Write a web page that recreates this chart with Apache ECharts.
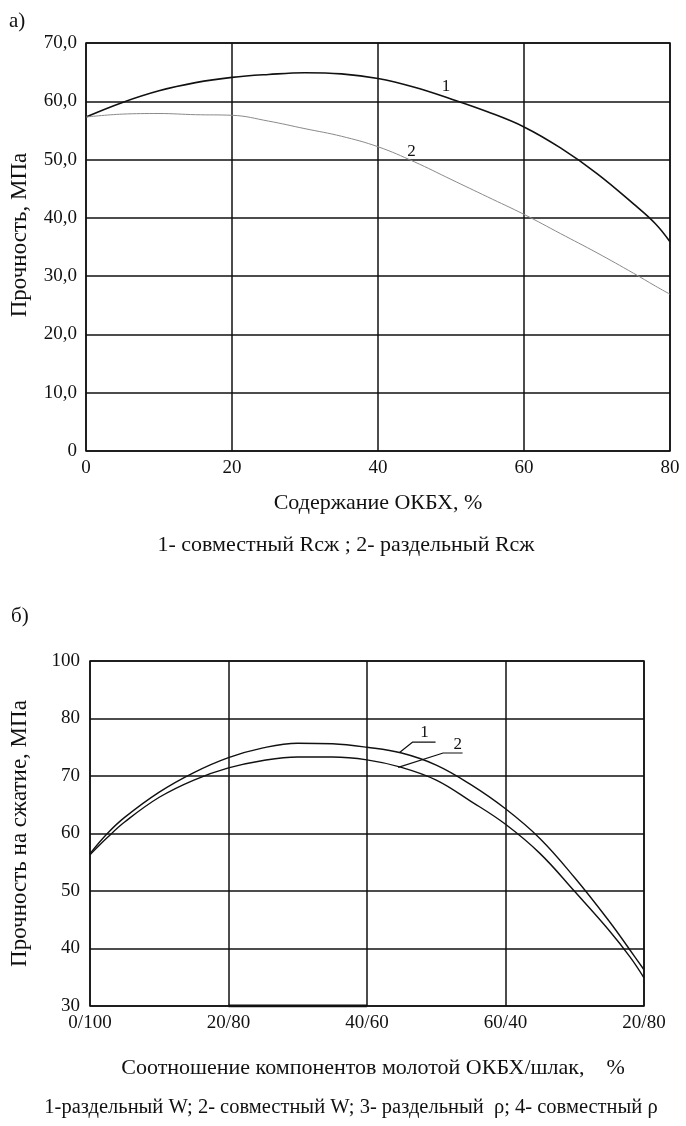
<!DOCTYPE html>
<html>
<head>
<meta charset="utf-8">
<script src="https://cdn.jsdelivr.net/npm/echarts@6/dist/echarts.min.js"></script>
<style>
  html, body { margin: 0; padding: 0; background: #fff; }
  #chart { width: 686px; height: 1126px; }
</style>
</head>
<body>
<div id="chart"></div>
<script>
// chart а) – strength vs OKBX content
const xA = [0, 5, 10, 15, 20, 25, 30, 35, 40, 45, 50, 55, 60, 65, 70, 75, 78, 80];
const a1 = [57.3, 59.8, 61.8, 63.2, 64.1, 64.6, 64.9, 64.7, 63.9, 62.4, 60.4, 58.2, 55.6, 52.0, 47.6, 42.4, 39.0, 35.9];
const a2 = [57.3, 57.8, 57.9, 57.7, 57.6, 56.6, 55.3, 54.0, 52.2, 49.6, 46.6, 43.6, 40.6, 37.3, 34.0, 30.5, 28.3, 26.9];
const xTicksA = ['0', '20', '40', '60', '80'];
const yTicksA = ['0', '10,0', '20,0', '30,0', '40,0', '50,0', '60,0', '70,0'];

// chart б) – compressive strength vs component ratio
const xB = [0, 2.5, 5, 10, 15, 20, 25, 30, 35, 40, 45, 50, 55, 60, 65, 70, 75, 78, 80];
const b1 = [56.5, 60.0, 62.8, 67.2, 70.6, 73.2, 74.9, 75.7, 75.6, 75.0, 74.0, 71.9, 68.5, 64.3, 59.1, 52.3, 44.7, 39.7, 36.3];
const b2 = [56.3, 59.3, 62.0, 66.3, 69.3, 71.4, 72.7, 73.3, 73.3, 72.8, 71.5, 69.3, 65.6, 61.6, 56.5, 49.9, 43.1, 38.5, 34.9];
const xTicksB = ['0/100', '20/80', '40/60', '60/40', '20/80'];
const yTicksB = ['30', '40', '50', '60', '70', '80', '100'];
// leader lines for the curve numbers in б)
const lead1 = [[44.7, 74.1], [46.6, 75.9], [49.9, 75.9]];
const lead2 = [[44.5, 71.5], [51.0, 74.0], [53.8, 74.0]];

const FONT = '"Liberation Serif", "DejaVu Serif", serif';
const INK = '#111';

function pairs(xs, ys) {
  return xs.map((x, i) => [x, ys[i]]);
}

function numLabel(text, coord) {
  return {
    coord: coord,
    symbol: 'rect',
    symbolSize: 1,
    itemStyle: { color: 'rgba(0,0,0,0)' },
    label: { show: true, position: 'inside', formatter: text, color: INK, fontFamily: FONT, fontSize: 17 }
  };
}

const axisText = { color: INK, fontFamily: FONT, fontSize: 19 };
const gridLine = { show: true, lineStyle: { color: INK, width: 1.5 } };

const chart = echarts.init(document.getElementById('chart'), null, { renderer: 'canvas' });

chart.setOption({
  backgroundColor: '#fff',
  animation: false,
  grid: [
    { left: 86, top: 43, right: 16, height: 408, show: true, borderColor: INK, borderWidth: 1.5 },
    { left: 90, top: 661, right: 42, height: 345, show: true, borderColor: INK, borderWidth: 1.5 }
  ],
  xAxis: [
    {
      gridIndex: 0, type: 'value', min: 0, max: 80, interval: 20,
      axisLine: { show: false }, axisTick: { show: false }, splitLine: gridLine,
      axisLabel: Object.assign({ margin: 8, formatter: (v, i) => xTicksA[i] }, axisText),
      name: 'Содержание ОКБХ, %', nameLocation: 'middle', nameGap: 41,
      nameTextStyle: { color: INK, fontFamily: FONT, fontSize: 22 }
    },
    {
      gridIndex: 1, type: 'value', min: 0, max: 80, interval: 20,
      axisLine: { show: false }, axisTick: { show: false }, splitLine: gridLine,
      axisLabel: Object.assign({ margin: 8, formatter: (v, i) => xTicksB[i] }, axisText),
      name: 'Соотношение компонентов молотой ОКБХ/шлак,    %', nameLocation: 'middle', nameGap: 51,
      nameTextStyle: { color: INK, fontFamily: FONT, fontSize: 22, padding: [0, 0, 0, 12] }
    }
  ],
  yAxis: [
    {
      gridIndex: 0, type: 'value', min: 0, max: 70, interval: 10,
      axisLine: { show: false }, axisTick: { show: false }, splitLine: gridLine,
      axisLabel: Object.assign({ margin: 9, formatter: (v, i) => yTicksA[i] }, axisText),
      name: 'Прочность, МПа', nameLocation: 'middle', nameGap: 55, nameRotate: 90,
      nameTextStyle: { color: INK, fontFamily: FONT, fontSize: 23, padding: [0, 0, 0, 24] }
    },
    {
      gridIndex: 1, type: 'value', min: 30, max: 90, interval: 10,
      axisLine: { show: false }, axisTick: { show: false }, splitLine: gridLine,
      axisLabel: Object.assign({ margin: 10, formatter: (v, i) => yTicksB[i] }, axisText),
      name: 'Прочность на сжатие, МПа', nameLocation: 'middle', nameGap: 59, nameRotate: 90,
      nameTextStyle: { color: INK, fontFamily: FONT, fontSize: 23 }
    }
  ],
  series: [
    {
      name: '1', type: 'line', xAxisIndex: 0, yAxisIndex: 0,
      data: pairs(xA, a1), smooth: 0.4, showSymbol: false,
      lineStyle: { color: INK, width: 1.6 },
      markPoint: { silent: true, data: [numLabel('1', [49.3, 62.6])] }
    },
    {
      name: '2', type: 'line', xAxisIndex: 0, yAxisIndex: 0,
      data: pairs(xA, a2), smooth: 0.4, showSymbol: false,
      lineStyle: { color: '#8a8a8a', width: 1 },
      markPoint: { silent: true, data: [numLabel('2', [44.6, 51.4])] }
    },
    {
      name: 'b1', type: 'line', xAxisIndex: 1, yAxisIndex: 1,
      data: pairs(xB, b1), smooth: 0.4, showSymbol: false,
      lineStyle: { color: INK, width: 1.4 }
    },
    {
      name: 'b2', type: 'line', xAxisIndex: 1, yAxisIndex: 1,
      data: pairs(xB, b2), smooth: 0.4, showSymbol: false,
      lineStyle: { color: INK, width: 1.4 }
    },
    {
      name: 'lead1', type: 'line', xAxisIndex: 1, yAxisIndex: 1,
      data: lead1, showSymbol: false, lineStyle: { color: INK, width: 1.2 },
      markPoint: { silent: true, data: [numLabel('1', [48.3, 77.5])] }
    },
    {
      name: 'lead2', type: 'line', xAxisIndex: 1, yAxisIndex: 1,
      data: lead2, showSymbol: false, lineStyle: { color: INK, width: 1.2 },
      markPoint: { silent: true, data: [numLabel('2', [53.1, 75.5])] }
    },
    {
      // heavier stretch of the base line between 20/80 and 40/60
      name: 'base', type: 'line', xAxisIndex: 1, yAxisIndex: 1,
      data: [[20, 30], [40, 30]], showSymbol: false, lineStyle: { color: INK, width: 3 }
    }
  ],
  graphic: [
    { type: 'text', left: 9, top: 11, style: { text: 'а)', fill: INK, font: '21px ' + FONT } },
    { type: 'text', left: 11, top: 606, style: { text: 'б)', fill: INK, font: '21px ' + FONT } },
    {
      type: 'text', x: 346, y: 545,
      style: { text: '1- совместный Rсж ; 2- раздельный Rсж', fill: INK, font: '22px ' + FONT,
        align: 'center', verticalAlign: 'middle', textAlign: 'center', textVerticalAlign: 'middle' }
    },
    {
      type: 'text', x: 351, y: 1108,
      style: { text: '1-раздельный W; 2- совместный W; 3- раздельный  ρ; 4- совместный ρ', fill: INK, font: '20.5px ' + FONT,
        align: 'center', verticalAlign: 'middle', textAlign: 'center', textVerticalAlign: 'middle' }
    }
  ]
});
</script>
</body>
</html>
